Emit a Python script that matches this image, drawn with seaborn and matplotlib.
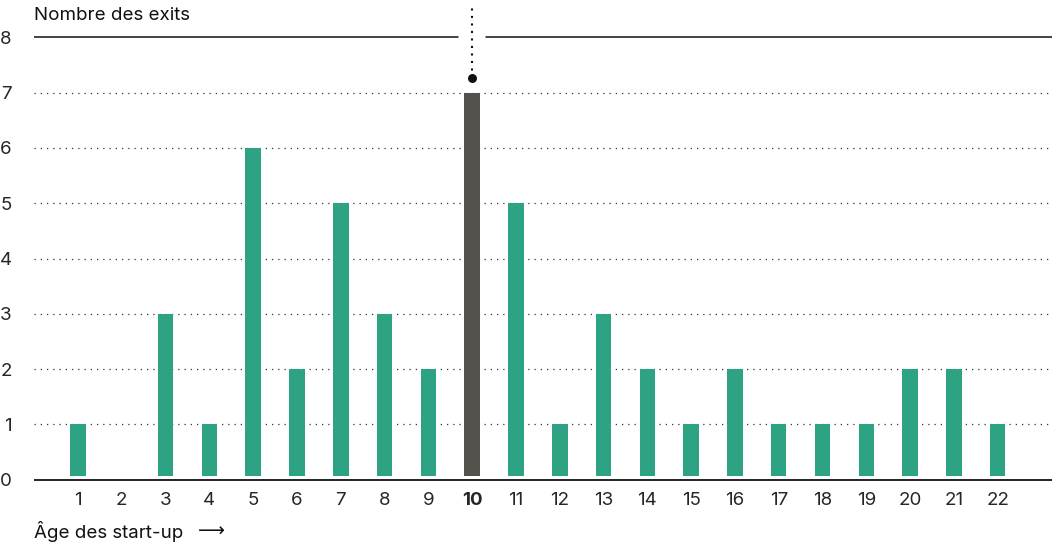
import matplotlib
matplotlib.use("Agg")
import matplotlib.pyplot as plt
import seaborn as sns
import pandas as pd

# Data: number of exits by start-up age (years)
ages = [str(a) for a in range(1, 23)]
exits = [1, 0, 3, 1, 6, 2, 5, 3, 2, 7, 5, 1, 3, 2, 1, 2, 1, 1, 1, 2, 2, 1]
highlight_age = "10"
y_ticks = [0, 1, 2, 3, 4, 5, 6, 7, 8]

GREEN = "#2ea384"
DARK = "#55524e"
FS = 13.5

sns.set_theme(style="white")
plt.rcParams["font.family"] = ["Inter", "DejaVu Sans"]
plt.rcParams["text.color"] = "#111111"

df = pd.DataFrame({"age": ages, "exits": exits})
palette = {a: (DARK if a == highlight_age else GREEN) for a in ages}

W, H = 1055, 542
fig = plt.figure(figsize=(W / 100, H / 100), dpi=100)
ax_left, ax_right = 34, 1052
ax_bottom_px, ax_top_px = 479.6, 4.3
ax = fig.add_axes([ax_left / W, 1 - ax_bottom_px / H,
                   (ax_right - ax_left) / W, (ax_bottom_px - ax_top_px) / H])

sns.barplot(data=df, x="age", y="exits", hue="age", palette=palette,
            legend=False, width=0.355, saturation=1, ax=ax, zorder=3,
            edgecolor="none")

ymax = 8.6
xlo, xhi = -1.005, 22.24
ax.set_xlim(xlo, xhi)
ax.set_ylim(0, ymax)

# small gap between bars and the baseline
ax.axhspan(0, 0.065, color="white", zorder=4, lw=0)

# dotted gridlines for 1..7
for v in y_ticks[1:-1]:
    ax.plot([xlo, xhi], [v, v], color="#333333", lw=0.9,
            dashes=(1, 4.0), zorder=2, solid_capstyle="butt")

# solid top line at 8, interrupted around the highlighted bar
hi_idx = ages.index(highlight_age)
gap = 0.32
ax.plot([xlo, hi_idx - gap], [8, 8], color="#111111", lw=1.1, zorder=2)
ax.plot([hi_idx + gap, xhi], [8, 8], color="#111111", lw=1.1, zorder=2)

# marker above the highlighted bar with a dotted leader to the top
dot_y = exits[hi_idx] + 0.27
ax.plot([hi_idx, hi_idx], [dot_y, ymax], color="#111111", lw=1.5,
        dashes=(1, 2.6), zorder=5, clip_on=False)
ax.scatter([hi_idx], [dot_y], s=42, color="#111111", zorder=6,
           clip_on=False, linewidths=0)

# baseline
ax.plot([xlo, xhi], [0, 0], color="#111111", lw=1.3, zorder=5,
        clip_on=False, solid_capstyle="butt")

for s in ax.spines.values():
    s.set_visible(False)

ax.set_yticks(y_ticks)
ax.set_yticklabels([str(t) for t in y_ticks])
ax.tick_params(axis="y", length=0, pad=16, labelsize=FS)
ax.tick_params(axis="x", length=0, pad=9, labelsize=FS)
for lab in ax.get_xticklabels():
    if lab.get_text() == highlight_age:
        lab.set_fontweight("bold")

ax.set_xlabel("")
ax.set_ylabel("")
ax.grid(False)

fig.text(ax_left / W, 1 - 15 / H, "Nombre des exits", fontsize=FS,
         ha="left", va="center")
fig.text(ax_left / W, 1 - 531 / H, "Âge des start-up", fontsize=FS,
         ha="left", va="center")
fig.text(198 / W, 1 - 531 / H, "⟶", fontsize=FS, family="DejaVu Sans",
         ha="left", va="center")

fig.savefig("out.png", dpi=100, facecolor="white")
